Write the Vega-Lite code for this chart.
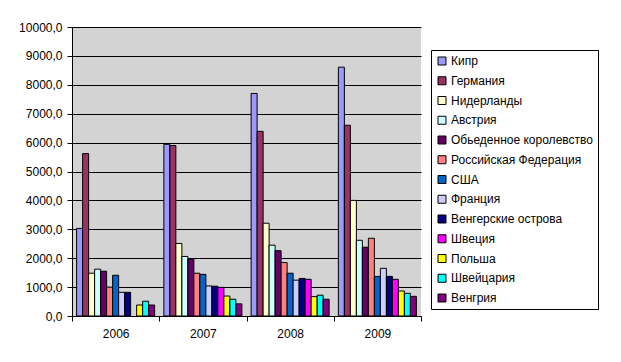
{
  "$schema": "https://vega.github.io/schema/vega-lite/v6.json",
  "autosize": "none",
  "width": 349,
  "height": 289,
  "padding": {"left": 72, "top": 27, "right": 200, "bottom": 46},
  "background": "white",
  "config": {
    "font": "Liberation Sans",
    "view": {"fill": "#d3d3d3", "stroke": null},
    "axis": {"labelFont": "Liberation Sans", "labelFontSize": 12, "labelColor": "black", "domainColor": "black", "tickColor": "black"}
  },
  "data": {
    "values": [
      {"year": "2006", "country": "Кипр", "value": 3030},
      {"year": "2006", "country": "Германия", "value": 5620},
      {"year": "2006", "country": "Нидерланды", "value": 1480},
      {"year": "2006", "country": "Австрия", "value": 1620},
      {"year": "2006", "country": "Обьеденное королевство", "value": 1550},
      {"year": "2006", "country": "Российская Федерация", "value": 1000},
      {"year": "2006", "country": "США", "value": 1410},
      {"year": "2006", "country": "Франция", "value": 820},
      {"year": "2006", "country": "Венгерские острова", "value": 820},
      {"year": "2006", "country": "Польша", "value": 380},
      {"year": "2006", "country": "Швейцария", "value": 510},
      {"year": "2006", "country": "Венгрия", "value": 380},
      {"year": "2007", "country": "Кипр", "value": 5940},
      {"year": "2007", "country": "Германия", "value": 5900},
      {"year": "2007", "country": "Нидерланды", "value": 2510},
      {"year": "2007", "country": "Австрия", "value": 2060},
      {"year": "2007", "country": "Обьеденное королевство", "value": 1970},
      {"year": "2007", "country": "Российская Федерация", "value": 1480},
      {"year": "2007", "country": "США", "value": 1440},
      {"year": "2007", "country": "Франция", "value": 1040},
      {"year": "2007", "country": "Венгерские острова", "value": 1030},
      {"year": "2007", "country": "Швеция", "value": 990},
      {"year": "2007", "country": "Польша", "value": 690},
      {"year": "2007", "country": "Швейцария", "value": 580},
      {"year": "2007", "country": "Венгрия", "value": 420},
      {"year": "2008", "country": "Кипр", "value": 7700},
      {"year": "2008", "country": "Германия", "value": 6390},
      {"year": "2008", "country": "Нидерланды", "value": 3210},
      {"year": "2008", "country": "Австрия", "value": 2450},
      {"year": "2008", "country": "Обьеденное королевство", "value": 2260},
      {"year": "2008", "country": "Российская Федерация", "value": 1850},
      {"year": "2008", "country": "США", "value": 1480},
      {"year": "2008", "country": "Франция", "value": 1240},
      {"year": "2008", "country": "Венгерские острова", "value": 1300},
      {"year": "2008", "country": "Швеция", "value": 1270},
      {"year": "2008", "country": "Польша", "value": 670},
      {"year": "2008", "country": "Швейцария", "value": 720},
      {"year": "2008", "country": "Венгрия", "value": 580},
      {"year": "2009", "country": "Кипр", "value": 8610},
      {"year": "2009", "country": "Германия", "value": 6600},
      {"year": "2009", "country": "Нидерланды", "value": 4000},
      {"year": "2009", "country": "Австрия", "value": 2620},
      {"year": "2009", "country": "Обьеденное королевство", "value": 2380},
      {"year": "2009", "country": "Российская Федерация", "value": 2690},
      {"year": "2009", "country": "США", "value": 1370},
      {"year": "2009", "country": "Франция", "value": 1650},
      {"year": "2009", "country": "Венгерские острова", "value": 1370},
      {"year": "2009", "country": "Швеция", "value": 1270},
      {"year": "2009", "country": "Польша", "value": 865},
      {"year": "2009", "country": "Швейцария", "value": 785},
      {"year": "2009", "country": "Венгрия", "value": 680}
    ]
  },
  "mark": {"type": "bar", "stroke": "black", "strokeWidth": 1},
  "encoding": {
    "x": {
      "field": "year", "type": "nominal", "title": null,
      "scale": {"paddingInner": 0, "paddingOuter": 0},
      "axis": {"labelAngle": 0, "tickBand": "extent", "tickSize": 5, "labelPadding": 7, "domainColor": "black", "grid": false}
    },
    "xOffset": {
      "field": "country", "type": "nominal",
      "sort": ["Кипр", "Германия", "Нидерланды", "Австрия", "Обьеденное королевство", "Российская Федерация", "США", "Франция", "Венгерские острова", "Швеция", "Польша", "Швейцария", "Венгрия"],
      "scale": {"paddingInner": 0, "paddingOuter": 0.77}
    },
    "y": {
      "field": "value", "type": "quantitative", "title": null,
      "scale": {"domain": [0, 10000], "nice": false},
      "axis": {"values": [0, 1000, 2000, 3000, 4000, 5000, 6000, 7000, 8000, 9000, 10000], "labelExpr": "replace(format(datum.value, '.1f'), '.', ',')", "grid": true, "gridColor": "black", "gridOpacity": 1, "tickSize": 5, "labelPadding": 5}
    },
    "color": {
      "field": "country", "type": "nominal",
      "sort": ["Кипр", "Германия", "Нидерланды", "Австрия", "Обьеденное королевство", "Российская Федерация", "США", "Франция", "Венгерские острова", "Швеция", "Польша", "Швейцария", "Венгрия"],
      "scale": {
        "domain": ["Кипр", "Германия", "Нидерланды", "Австрия", "Обьеденное королевство", "Российская Федерация", "США", "Франция", "Венгерские острова", "Швеция", "Польша", "Швейцария", "Венгрия"],
        "range": ["#9999FF", "#993366", "#FFFFCC", "#CCFFFF", "#660066", "#FF8080", "#0066CC", "#CCCCFF", "#000080", "#FF00FF", "#FFFF00", "#00FFFF", "#800080"]
      },
      "legend": {
        "title": null, "orient": "none", "legendX": 359, "legendY": 23,
        "symbolType": "square", "symbolSize": 64, "symbolStrokeColor": "black", "symbolStrokeWidth": 1, "symbolOpacity": 1,
        "labelFont": "Liberation Sans", "labelFontSize": 12, "labelColor": "black", "labelOffset": 3, "labelLimit": 300,
        "rowPadding": 7.75, "padding": 5, "strokeColor": "black", "fillColor": "white"
      }
    }
  }
}
